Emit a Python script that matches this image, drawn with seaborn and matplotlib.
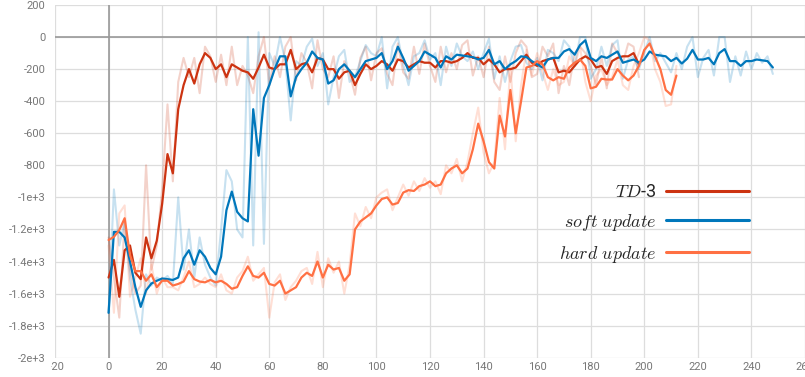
import matplotlib.pyplot as plt
import matplotlib
import numpy as np
import seaborn as sns
from matplotlib.lines import Line2D
from matplotlib.transforms import Bbox

sns.set_style('white')
matplotlib.rcParams['mathtext.fontset'] = 'cm'
matplotlib.rcParams['font.family'] = ['Roboto', 'DejaVu Sans']

# steps (every 2 episodes)
td3_steps = np.arange(0, 200, 2)
soft_steps = np.arange(0, 250, 2)
hard_steps = np.arange(0, 214, 2)

# TD-3 : smoothed / raw
td3_smooth = [-1500, -1390, -1620, -1330, -1300, -1470, -1510, -1250, -1380, -1270,
              -1040, -730, -850, -450, -300, -200, -290, -170, -100, -130,
              -200, -170, -250, -170, -190, -210, -220, -260, -190, -110,
              -190, -200, -170, -170, -80, -200, -170, -160, -220, -130,
              -140, -200, -200, -260, -220, -210, -300, -230, -170, -200,
              -180, -150, -170, -210, -140, -150, -190, -170, -150, -160,
              -160, -190, -150, -150, -160, -150, -130, -100, -130, -130,
              -170, -140, -170, -220, -200, -200, -190, -150, -110, -160,
              -180, -150, -140, -130, -220, -210, -220, -180, -140, -120,
              -140, -190, -180, -230, -150, -130, -120, -120, -100, -170]
td3_raw = [-1250, -1500, -1750, -1150, -1450, -1600, -1550, -800, -1450, -1300,
           -950, -420, -900, -280, -130, -250, -130, -350, -60, -120,
           -280, -110, -300, -60, -300, -180, -240, -350, -120, 0,
           -300, -120, -250, -60, 0, -270, -100, -160, -320, -20,
           -200, -250, -120, -380, -150, -220, -360, -130, -60, -270,
           -100, -70, -230, -300, -40, -220, -260, -60, -230, -40,
           -180, -280, -60, -220, -100, -200, -50, -20, -240, -120,
           -250, -60, -280, -330, -120, -280, -100, -20, -60, -250,
           -230, -60, -120, -40, -350, -180, -300, -100, -60, -100,
           -180, -300, -120, -320, -40, -100, -160, -40, -60, -250]

# soft update : smoothed / raw
soft_smooth = [-1720, -1215, -1215, -1250, -1400, -1560, -1683, -1580, -1537, -1520,
               -1506, -1510, -1515, -1500, -1380, -1330, -1420, -1330, -1370, -1440,
               -1480, -1370, -1080, -964, -1090, -1130, -1150, -450, -740, -380,
               -300, -200, -120, -120, -370, -250, -200, -160, -90, -130,
               -140, -290, -270, -200, -170, -210, -250, -200, -150, -140,
               -130, -100, -200, -150, -60, -130, -210, -180, -150, -90,
               -110, -130, -190, -120, -140, -110, -115, -120, -125, -140,
               -130, -80, -170, -150, -200, -170, -150, -120, -125, -150,
               -170, -190, -140, -130, -130, -90, -75, -110, -50, -20,
               -130, -150, -120, -130, -110, -90, -160, -150, -140, -160,
               -140, -90, -110, -115, -120, -150, -130, -165, -135, -80,
               -140, -140, -130, -170, -100, -75, -150, -150, -180, -150,
               -150, -140, -145, -150, -190]
soft_raw = [-1720, -950, -1300, -1150, -1500, -1700, -1850, -1480, -1550, -1500,
            -1520, -1490, -1540, -1000, -1450, -1200, -1500, -1250, -1420, -1500,
            -1550, -1200, -830, -900, -1200, -1250, 0, -1300, 30, -1290,
            -100, -180, 0, -150, -520, -150, -180, -60, -10, -180,
            -100, -420, -250, -120, -80, -280, -250, -150, -50, -100,
            -120, 0, -320, -60, 0, -170, -300, -120, -100, -20,
            -140, -100, -300, -60, -180, -40, -120, -150, -90, -200,
            -100, -10, -260, -120, -280, -150, -60, -50, -160, -200,
            -130, -270, -80, -100, -150, -20, -60, -180, 0, 0,
            -260, -200, -60, -180, -50, -20, -260, -140, -120, -200,
            -100, 0, -150, -100, -160, -220, -100, -200, -60, 0,
            -250, -130, -80, -240, 0, 0, -280, -120, -240, -90,
            -200, -100, -160, -120, -230]

# hard update : smoothed / raw
hard_smooth = [-1266, -1246, -1204, -1130, -1360, -1460, -1460, -1520, -1480, -1560,
               -1520, -1520, -1550, -1540, -1525, -1460, -1510, -1525, -1530, -1515,
               -1530, -1520, -1540, -1570, -1560, -1490, -1430, -1490, -1500, -1470,
               -1540, -1550, -1520, -1600, -1580, -1560, -1500, -1470, -1490, -1400,
               -1500, -1420, -1450, -1440, -1520, -1480, -1200, -1150, -1125, -1100,
               -1050, -1010, -1000, -1045, -1035, -970, -955, -960, -930, -920,
               -900, -930, -920, -850, -820, -800, -850, -820, -700, -540,
               -650, -780, -820, -490, -620, -330, -600, -400, -190, -180,
               -150, -170, -250, -270, -250, -260, -190, -160, -140, -180,
               -320, -310, -260, -265, -265, -200, -240, -270, -240, -180,
               -80, -40, -120, -200, -330, -360, -240]
hard_raw = [-1300, -1720, -1100, -1050, -1620, -1500, -1380, -1600, -1420, -1600,
            -1500, -1560, -1560, -1580, -1500, -1400, -1560, -1540, -1500, -1540,
            -1560, -1480, -1580, -1600, -1500, -1460, -1370, -1520, -1480, -1440,
            -1750, -1530, -1480, -1640, -1560, -1520, -1460, -1440, -1540, -1340,
            -1560, -1380, -1470, -1400, -1600, -1420, -1100, -1180, -1060, -1130,
            -1000, -970, -950, -1080, -1000, -920, -990, -900, -960, -880,
            -940, -900, -980, -800, -850, -760, -900, -780, -600, -440,
            -720, -850, -780, -380, -700, -180, -650, -300, -80, -240,
            -100, -220, -330, -200, -300, -280, -120, -180, -60, -280,
            -400, -240, -200, -300, -250, -140, -300, -330, -180, -100,
            0, -20, -200, -280, -430, -420, -180]

labels = ['$TD$-3', '$soft\\ update$', '$hard\\ update$']
colors = ['#cc3311', '#0077bb', '#ff7043']

x_ticks = np.arange(-20, 261, 20)
y_ticks = [200, 0, -200, -400, -600, -800, -1000, -1200, -1400, -1600, -1800, -2000]
y_tick_labels = ['200', '0', '-200', '-400', '-600', '-800', '-1e+3', '-1.2e+3',
                 '-1.4e+3', '-1.6e+3', '-1.8e+3', '-2e+3']

fig = plt.figure(figsize=(8.05, 3.77), dpi=100)
ax = fig.add_axes([55 / 805, 19.3 / 377, 750 / 805, 352.7 / 377])

series = [(td3_steps, td3_smooth, td3_raw),
          (soft_steps, soft_smooth, soft_raw),
          (hard_steps, hard_smooth, hard_raw)]

for (st, sm, rw), c in zip(series, colors):
    sns.lineplot(x=st, y=rw, color=c, alpha=0.22, linewidth=1.5, ax=ax)
for (st, sm, rw), c in zip(series, colors):
    sns.lineplot(x=st, y=sm, color=c, linewidth=1.6, ax=ax)

ax.set_xlim(-20, 260)
ax.set_ylim(-2000, 200)
ax.set_xticks(x_ticks)
ax.set_yticks(y_ticks)
ax.set_yticklabels(y_tick_labels)
ax.grid(True, color='#dddddd', linewidth=0.9)
ax.axhline(0, color='#999999', linewidth=1.2, zorder=1)
ax.axvline(0, color='#999999', linewidth=1.2, zorder=1)
for s in ax.spines.values():
    s.set_visible(False)
ax.tick_params(axis='both', length=0, labelsize=8, labelcolor='#777777')
ax.tick_params(axis='y', pad=7)
ax.tick_params(axis='x', pad=3)
ax.set_xlabel('')
ax.set_ylabel('')

# the -20 label is half hidden in the original
clip = Bbox.from_extents(51, 0, 805, 377)
first = ax.get_xticklabels()[0]
first.set_clip_box(clip)
first.set_clip_on(True)

handles = [Line2D([], [], color=c, linewidth=2.2) for c in colors]
ax.legend(handles, labels, loc='center right', bbox_to_anchor=(0.925, 0.38),
          frameon=False, markerfirst=False, fontsize=13, handlelength=4.6,
          handletextpad=0.5, labelspacing=0.6, borderpad=0, borderaxespad=0)

plt.savefig('out.png', dpi=100)
